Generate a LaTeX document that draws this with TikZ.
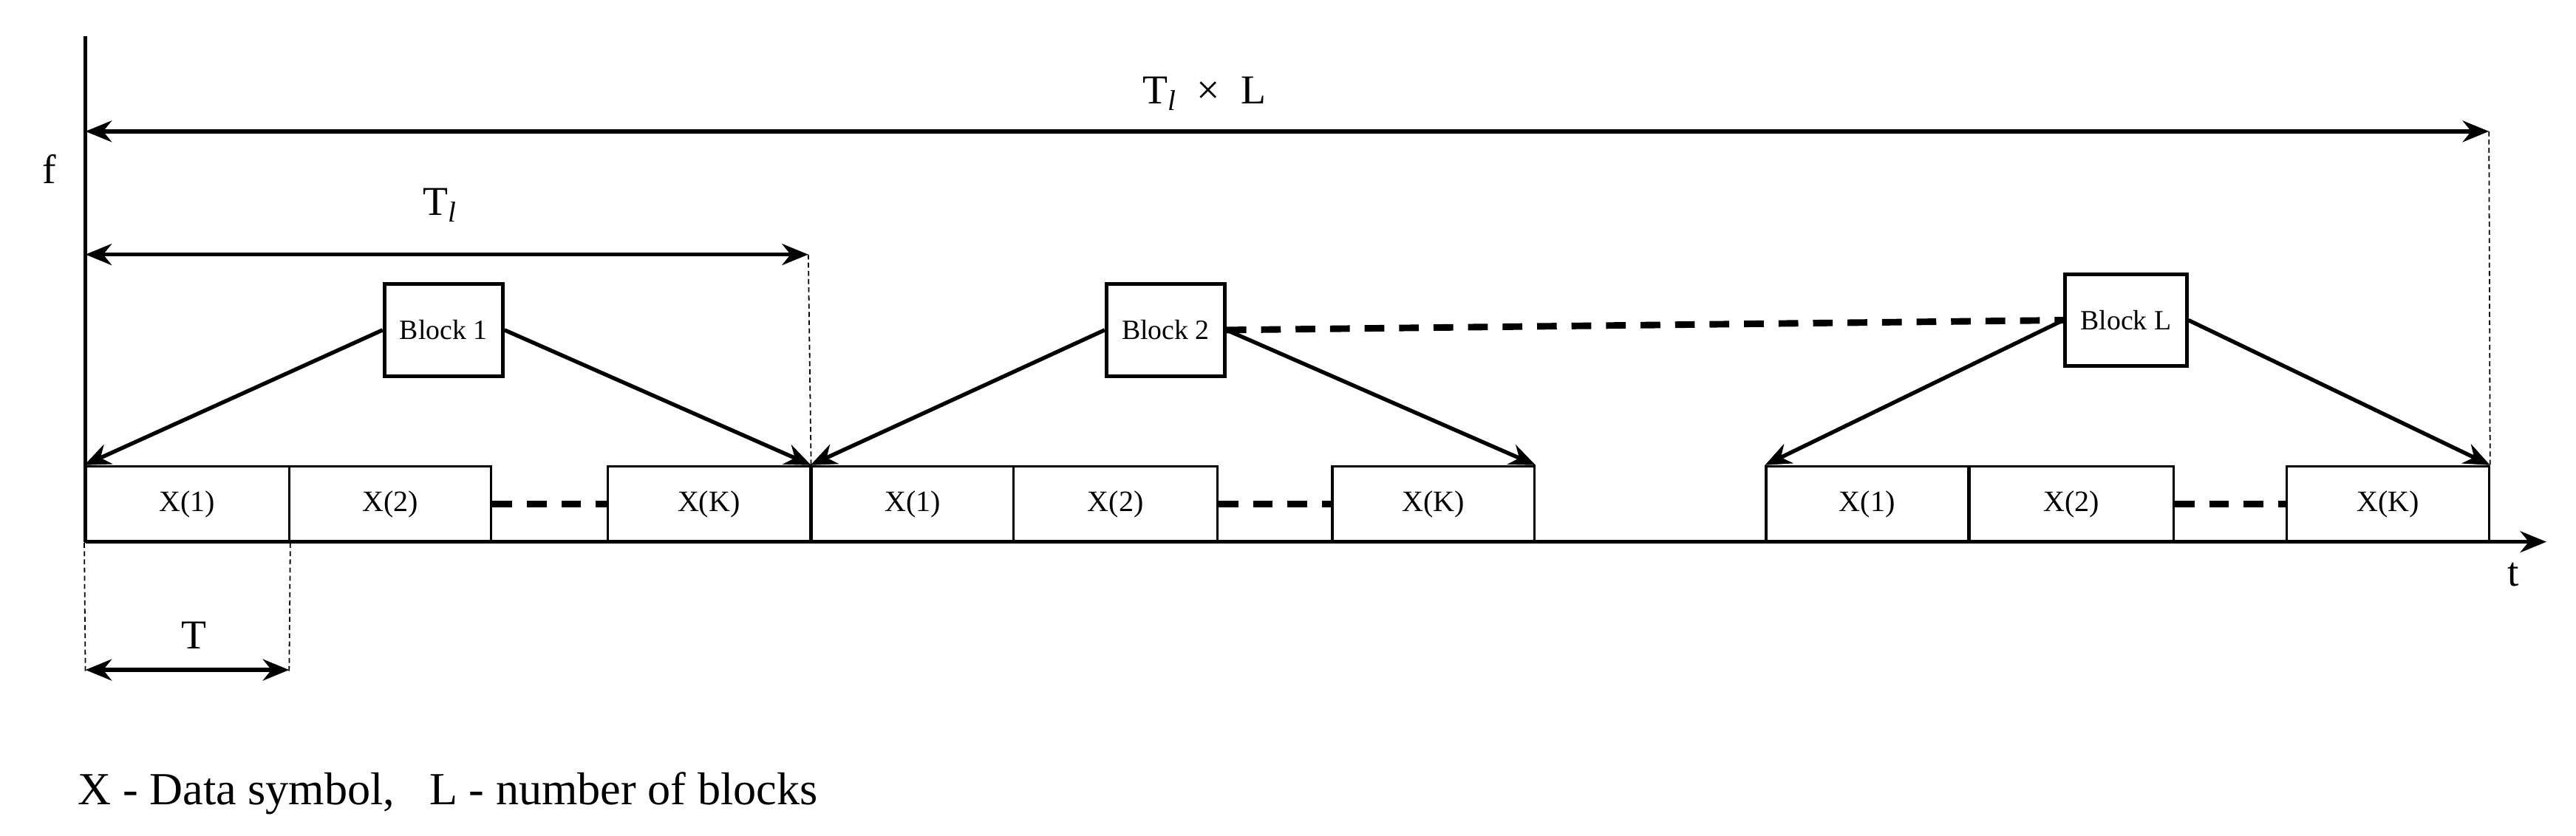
\documentclass[tikz,border=0pt]{standalone}
\usepackage{fontspec}
\setmainfont{Liberation Serif}
\usetikzlibrary{arrows.meta}
\begin{document}
\begin{tikzpicture}[x=1pt,y=-1pt,
  ln/.style={line width=2.4pt},
  arr/.style={ln,-{Stealth[length=16pt,width=13pt]}},
  darr/.style={ln,{Stealth[length=16pt,width=13pt]}-{Stealth[length=16pt,width=13pt]}},
  sym/.style={draw,line width=1.4pt,minimum height=46pt,inner sep=0pt,font=\fontsize{18}{20}\selectfont},
  blk/.style={draw,line width=2.2pt,minimum width=72pt,minimum height=56pt,inner sep=0pt,font=\fontsize{17}{19}\selectfont},
  dsh/.style={line width=4pt,dash pattern=on 12pt off 9pt},
  dot/.style={line width=0.8pt,dash pattern=on 3pt off 2pt},
  lbl/.style={font=\fontsize{25}{27}\selectfont}]
\useasboundingbox (0,0) rectangle (1568,509);
% axes
\coordinate (o) at (52,330);
\coordinate (ftop) at (52,22);
\coordinate (tend) at (1550,330);
\draw[ln] (o) -- (ftop);
\draw[ln,-{Stealth[length=16pt,width=13pt]}] (o) -- (tend);
\node[lbl] (f) at (30,103) {f};
\node[lbl] (t) at (1530,350) {t};
% symbol boxes
\foreach \n/\a/\b/\t in {a1/52/176/X(1),a2/176/299/X(2),aK/370/493/X(K),
  b1/494/617/X(1),b2/617/741/X(2),bK/811/934/X(K),
  c1/1075/1198/X(1),c2/1199/1323/X(2),cK/1392/1515/X(K)}{
  \node[sym,minimum width=\b pt-\a pt] (\n) at ({(\a+\b)/2},307) {\t};
}
\draw[dsh] (a2.east) -- (aK.west);
\draw[dsh] (b2.east) -- (bK.west);
\draw[dsh] (c2.east) -- (cK.west);
% blocks
\node[blk] (B1) at (270,201) {Block 1};
\node[blk] (B2) at (709.5,201) {Block 2};
\node[blk,minimum width=74pt] (BL) at (1294,195) {Block L};
\draw[arr] (B1.west) -- (a1.north west);
\draw[arr] (B1.east) -- (aK.north east);
\draw[arr] (B2.west) -- (b1.north west);
\draw[arr] (B2.east) -- (bK.north east);
\draw[arr] (BL.west) -- (c1.north west);
\draw[arr] (BL.east) -- (cK.north east);
\draw[dsh] (B2.east) -- (BL.west);
% dimension arrows
\coordinate (L1) at (52,80); \coordinate (L2) at (1515,80);
\draw[darr] (L1) -- (L2);
\node[lbl] (TLl) at (733,57) {T\textsubscript{\textit{l}}\ \ ×\ \ L};
\coordinate (T1) at (52,155); \coordinate (T2) at (492,155);
\draw[darr] (T1) -- (T2);
\node[lbl] (Tl) at (268,125) {T\textsubscript{\textit{l}}};
\draw[dot] (T2) -- (aK.north east);
\draw[dot] (L2) -- (cK.north east);
\coordinate (S1) at (52,408); \coordinate (S2) at (176,408);
\draw[darr] (S1) -- (S2);
\node[lbl] (T) at (118,387) {T};
\draw[dot] (a1.south west) -- (52,410);
\draw[dot] (a1.south east) -- (176,410);
\node[anchor=west,font=\fontsize{28}{30}\selectfont] (note) at (44,483) {X - Data symbol,\ \ \ L - number of blocks};
\end{tikzpicture}
\end{document}
